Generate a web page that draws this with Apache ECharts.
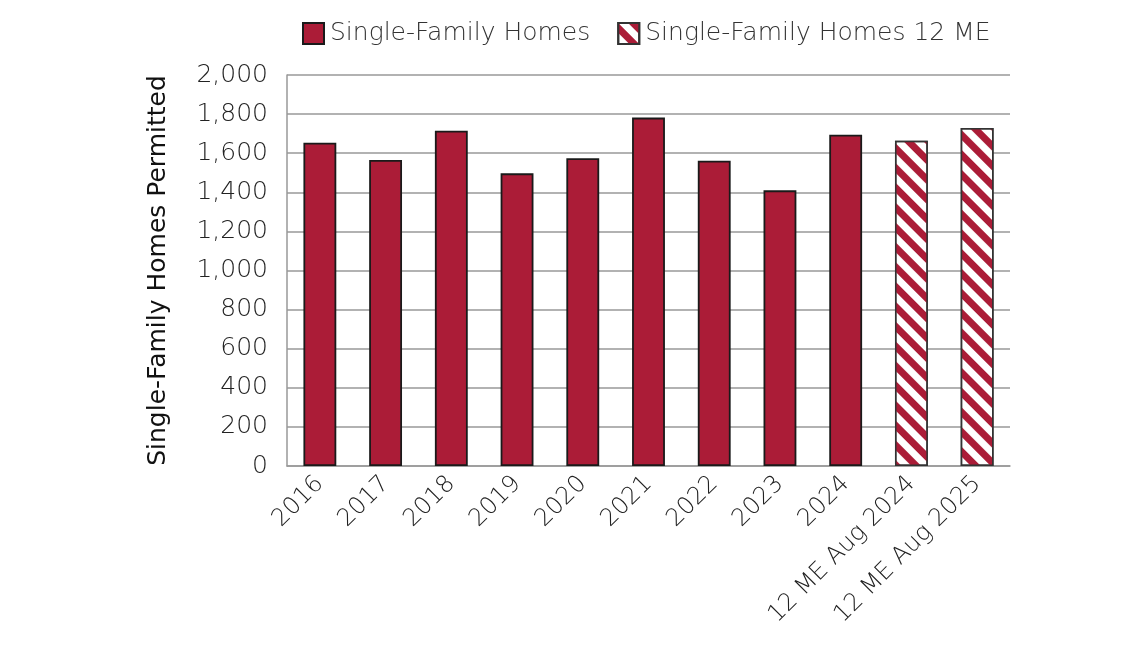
<!DOCTYPE html>
<html><head><meta charset="utf-8">
<script src="https://cdn.jsdelivr.net/npm/echarts@6/dist/echarts.min.js"></script>
<style>html,body{margin:0;padding:0;background:#fff}#c{width:1140px;height:656px}</style>
</head><body><div id="c"></div>
<script>
const categories = ['2016','2017','2018','2019','2020','2021','2022','2023','2024','12 ME Aug 2024','12 ME Aug 2025'];
const annualValues = [1654, 1565, 1715, 1497, 1574, 1782, 1562, 1410, 1695, null, null];
const twelveMonthValues = [null, null, null, null, null, null, null, null, null, 1664, 1729];
const yTicks = [0, 200, 400, 600, 800, 1000, 1200, 1400, 1600, 1800, 2000];
const seriesNames = ['Single-Family Homes', 'Single-Family Homes 12 ME'];
const yAxisTitle = 'Single-Family Homes Permitted';

const RED = '#AB1C37';
const FONT = '"DejaVu Sans"';
const chart = echarts.init(document.getElementById('c'));
chart.setOption({
  animation: false,
  legend: {
    top: 16, left: 297, icon: 'rect', itemWidth: 21, itemHeight: 21, itemGap: 27,
    textStyle: { fontFamily: FONT, fontWeight: 200, fontSize: 25, color: '#333', padding: [0, 0, 0, 1] },
    data: seriesNames
  },
  grid: { left: 287, right: 130, top: 75, bottom: 190 },
  xAxis: {
    type: 'category', data: categories,
    axisLine: { lineStyle: { color: '#999', width: 1.5 } },
    axisTick: { show: false },
    axisLabel: { rotate: 45, fontFamily: FONT, fontWeight: 200, fontSize: 24, color: '#222', interval: 0, margin: 14 }
  },
  yAxis: {
    type: 'value', min: 0, max: 2000, interval: 200,
    name: yAxisTitle, nameLocation: 'middle', nameGap: 116,
    nameTextStyle: { fontFamily: FONT, fontSize: 25, color: '#111' },
    axisLine: { show: true, lineStyle: { color: '#999', width: 1.5 } },
    axisTick: { show: false },
    splitLine: { lineStyle: { color: '#999', width: 1.5 } },
    axisLabel: { fontFamily: FONT, fontWeight: 200, fontSize: 25, color: '#222', margin: 19,
      formatter: v => yTicks.includes(v) ? v.toLocaleString('en-US') : '' }
  },
  series: [
    { name: seriesNames[0], type: 'bar', data: annualValues, barWidth: '50%', barGap: '-100%',
      itemStyle: { color: RED, borderColor: '#1a1a1a', borderWidth: 1.8 } },
    { name: seriesNames[1], type: 'bar', data: twelveMonthValues, barWidth: '50%',
      itemStyle: { color: '#fff', borderColor: '#333', borderWidth: 1.5,
        decal: { symbol: 'rect', symbolSize: 1, color: RED, dashArrayX: [1, 0], dashArrayY: [7, 7], rotation: Math.PI / 4 } } }
  ]
});
</script></body></html>
